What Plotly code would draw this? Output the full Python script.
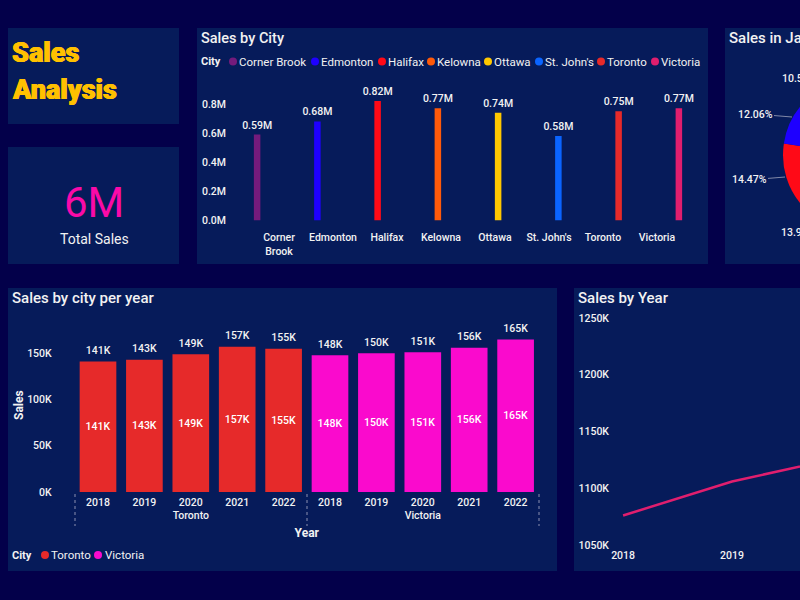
import plotly.graph_objects as go

W = 1100
H = 600

# sales by city, in millions
cities = ["Corner Brook", "Edmonton", "Halifax", "Kelowna", "Ottawa", "St. John's", "Toronto", "Victoria"]
city_labels = ["Corner<br>Brook", "Edmonton", "Halifax", "Kelowna", "Ottawa", "St. John's", "Toronto", "Victoria"]
city_sales = [0.59, 0.68, 0.82, 0.77, 0.74, 0.58, 0.75, 0.77]
city_colors = ["#741B7C", "#1E00FF", "#FF0A17", "#FF5A0A", "#FFC800", "#0A64FF", "#E62A2A", "#E01E6E"]

# pie, clockwise from the top
pie_cities = ["Victoria", "Toronto", "St. John's", "Ottawa", "Kelowna", "Halifax", "Edmonton", "Corner Brook"]
pie_share = [13.2, 12.9, 10.3, 12.6, 13.94, 14.47, 12.06, 10.53]

# sales by city per year, in thousands
group_city = ["Toronto"] * 5 + ["Victoria"] * 5
group_year = ["2018", "2019", "2020", "2021", "2022"] * 2
group_sales = [141, 143, 149, 157, 155, 148, 150, 151, 156, 165]
group_colors = ["#E62A2A"] * 5 + ["#FA0ACD"] * 5

# sales by year, in thousands
years = ["2018", "2019", "2020", "2021", "2022"]
year_sales = [1076, 1106, 1127, 1240, 1250]

BG = "#03004A"
PANEL = "#061B5A"
TXT = "#F2F2F2"
FONT = "Roboto"
YELLOW = "#FFC000"


def xp(v):
    return v / W


def yp(v):
    return 1 - v / H


def panel(x0, y0, x1, y1):
    return dict(type="rect", xref="paper", yref="paper", x0=xp(x0), x1=xp(x1), y0=yp(y0), y1=yp(y1),
                fillcolor=PANEL, line_width=0, layer="below")


def dot(x, y, color):
    return dict(type="circle", xref="paper", yref="paper", x0=xp(x - 4), x1=xp(x + 4), y0=yp(y + 4), y1=yp(y - 4),
                fillcolor=color, line_width=0)


def note(x, y, text, size=11, color=TXT, anchor="left", weight=400, family=FONT, shadow="none", angle=0):
    # annotations carry about 2px of padding on the left
    if anchor == "left":
        x = x - 2
    return dict(xref="paper", yref="paper", x=xp(x), y=yp(y), text=text, showarrow=False,
                xanchor=anchor, yanchor="middle", textangle=angle,
                font=dict(size=size, color=color, family=family, weight=weight, shadow=shadow))


fig = go.Figure()

# sales by city
fig.add_trace(go.Bar(x=cities, y=city_sales, marker_color=city_colors, width=0.108, xaxis="x", yaxis="y",
                     text=city_sales, texttemplate="%{y:.2f}M", textposition="outside", cliponaxis=False,
                     constraintext="none", textfont=dict(size=10.5, color=TXT, family=FONT, weight=500), showlegend=False))
# empty trace, only carries the shifted category labels
fig.add_trace(go.Scatter(x=city_labels, y=city_sales, mode="none", xaxis="x2", yaxis="y2", showlegend=False))

# pie
fig.add_trace(go.Pie(labels=pie_cities, values=pie_share, sort=False, direction="clockwise", rotation=0,
                     marker_colors=[city_colors[cities.index(c)] for c in pie_cities],
                     textinfo="none", showlegend=False,
                     domain=dict(x=[xp(783), xp(935)], y=[yp(231), yp(79)])))

# sales by city per year
fig.add_trace(go.Bar(x=[group_city, group_year], y=group_sales, marker_color=group_colors, width=0.79,
                     xaxis="x3", yaxis="y3", text=[f"{v}K" for v in group_sales], textposition="inside",
                     insidetextanchor="middle", textangle=0,
                     textfont=dict(size=10.5, color="#FFFFFF", family=FONT, weight=500), showlegend=False))
# clear markers push the labels up off the bar tops
fig.add_trace(go.Scatter(x=[group_city, group_year], y=group_sales, mode="markers+text", xaxis="x3", yaxis="y3",
                         marker=dict(size=6, color="rgba(0,0,0,0)"),
                         text=[f"{v}K" for v in group_sales], textposition="top center", cliponaxis=False,
                         textfont=dict(size=10.5, color=TXT, family=FONT, weight=500), showlegend=False))

# sales by year
fig.add_trace(go.Scatter(x=years, y=year_sales, mode="lines", line=dict(color="#E01E6E", width=2.5),
                         xaxis="x4", yaxis="y4", showlegend=False))

shapes = [panel(8, 28, 179, 124), panel(8, 147, 179, 264), panel(197, 28, 708, 264), panel(725, 28, 1100, 264),
          panel(8, 288, 557, 571), panel(574, 288, 1100, 571)]

# legends
top_legend_dots = [233, 315, 382, 431, 488, 539, 601, 655]
shapes += [dot(x, 61.5, c) for x, c in zip(top_legend_dots, city_colors)]
shapes += [dot(45, 555, group_colors[0]), dot(98, 555, group_colors[5])]

# dotted group dividers
for x in [75, 307, 539]:
    shapes.append(dict(type="line", xref="paper", yref="paper", x0=xp(x), x1=xp(x), y0=yp(494), y1=yp(526),
                       line=dict(color="#8A90B0", width=1, dash="dot")))

heavy = f"0.5px 0 0 {YELLOW}, -0.5px 0 0 {YELLOW}"
annotations = [
    note(12, 53, "Sales", 27, YELLOW, weight=900, family="Roboto", shadow=heavy),
    note(12, 90, "Analysis", 27, YELLOW, weight=900, family="Roboto", shadow=heavy),
    note(94, 202, "6M", 42, "#FA0AA8", "center"),
    note(94, 239, "Total Sales", 14, TXT, "center"),
    note(201, 38, "Sales by City", 14.5, weight=500),
    note(729, 38, "Sales in January", 15, weight=500),
    note(12, 298, "Sales by city per year", 15, weight=500),
    note(578, 298, "Sales by Year", 15, weight=500),
    note(201, 62, "City", 11, weight=700),
    note(12, 555, "City", 11, weight=700),
    note(45 + 6, 555, "Toronto", 11.5),
    note(98 + 7, 555, "Victoria", 11.5),
    note(19, 405, "Sales", 12, anchor="center", weight=700, angle=-90),
]
annotations += [note(x + 6, 61.5, c, 11.5) for x, c in zip(top_legend_dots, cities)]

# pie labels with leader lines
for i, hx, hy, tx, ty in [(7, 806, 92, 799, 78), (6, 792, 117, 755, 114), (5, 785, 177, 749, 180), (4, 806, 222, 798, 232)]:
    annotations.append(dict(xref="paper", yref="paper", x=xp(hx), y=yp(hy), ax=tx - hx, ay=ty - hy, axref="pixel", ayref="pixel",
                            text=f"{pie_share[i]:.2f}%", showarrow=True, arrowhead=0, arrowwidth=1, arrowcolor="#8088A8",
                            font=dict(size=10.5, color=TXT, family=FONT, weight=500)))

tick_font = dict(size=10.5, color=TXT, family=FONT, weight=500)
common = dict(showgrid=False, zeroline=False, showline=False, tickfont=tick_font, automargin=False)
clear = "rgba(0,0,0,0)"

fig.update_layout(
    template="none",
    width=W, height=H, autosize=False, margin=dict(l=0, r=0, t=0, b=0, pad=0),
    paper_bgcolor=BG, plot_bgcolor=clear, shapes=shapes, annotations=annotations,
    xaxis=dict(domain=[xp(227), xp(709)], showticklabels=False, ticks="", anchor="y", **common),
    yaxis=dict(domain=[yp(220.5), yp(85)], range=[0, 0.93], tick0=0, dtick=0.2, tickformat=".1f",
               ticksuffix="M", anchor="x", ticks="", **common),
    xaxis2=dict(domain=[xp(252), xp(684)], range=[-0.5, 7.5], anchor="y2", ticks="outside", ticklen=7, tickcolor=clear, **common),
    yaxis2=dict(domain=[yp(220.5), yp(85)], range=[0, 0.93], visible=False, anchor="x2"),
    xaxis3=dict(domain=[xp(74.8), xp(538.8)], range=[-0.5, 9.5], anchor="y3", ticks="outside", ticklen=4, ticklabelstandoff=2,
                tickcolor=clear, showdividers=False,
                title=dict(text="Year", font=dict(size=12, color=TXT, family=FONT, weight=700), standoff=8), **common),
    yaxis3=dict(domain=[yp(492), yp(320)], range=[0, 186], tick0=0, dtick=50, ticksuffix="K", anchor="x3",
                ticks="outside", ticklen=20, tickcolor=clear, **common),
    xaxis4=dict(domain=[xp(610), xp(1100)], type="category", range=[-0.12, 4.376], anchor="y4",
                ticks="", ticklabelstandoff=2, **common),
    yaxis4=dict(domain=[yp(545), yp(318)], range=[1050, 1250], tick0=1050, dtick=50, ticksuffix="K",
                anchor="x4", ticks="", **common),
)

# the dashboard runs off the right edge of the window
fig.write_html("out.html", post_script="document.documentElement.style.overflow='hidden';document.body.style.overflow='hidden';document.body.style.margin='0';")
